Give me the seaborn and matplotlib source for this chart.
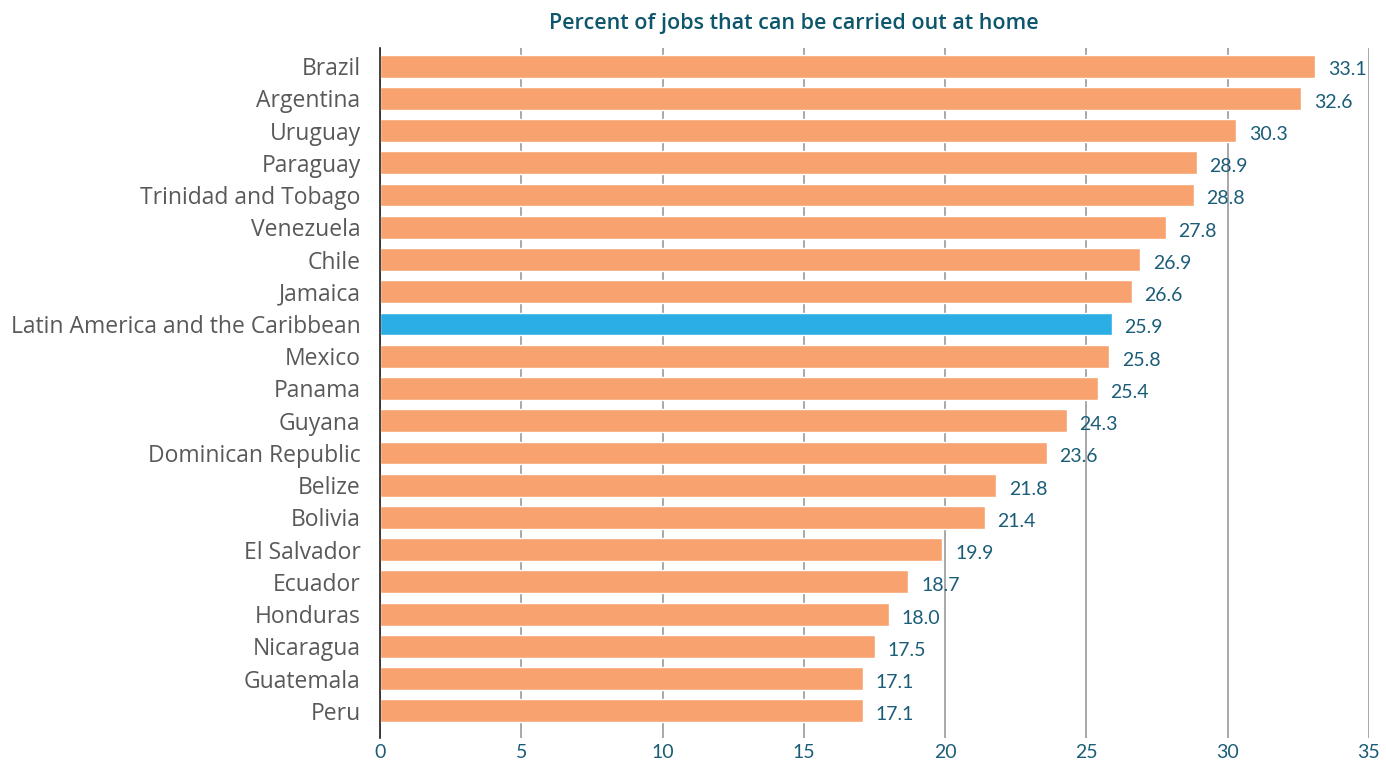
import matplotlib
matplotlib.use('Agg')
import matplotlib.pyplot as plt
import seaborn as sns
import pandas as pd

countries = ['Brazil', 'Argentina', 'Uruguay', 'Paraguay', 'Trinidad and Tobago', 'Venezuela',
             'Chile', 'Jamaica', 'Latin America and the Caribbean', 'Mexico', 'Panama', 'Guyana',
             'Dominican Republic', 'Belize', 'Bolivia', 'El Salvador', 'Ecuador', 'Honduras',
             'Nicaragua', 'Guatemala', 'Peru']
values = [33.1, 32.6, 30.3, 28.9, 28.8, 27.8, 26.9, 26.6, 25.9, 25.8, 25.4, 24.3,
          23.6, 21.8, 21.4, 19.9, 18.7, 18.0, 17.5, 17.1, 17.1]
highlight = 'Latin America and the Caribbean'
x_ticks = [0, 5, 10, 15, 20, 25, 30, 35]

ORANGE, BLUE, TEAL = '#f7a26f', '#2baee4', '#1b5d78'

df = pd.DataFrame({'country': countries, 'value': values})
df['group'] = ['region' if c == highlight else 'country' for c in countries]

sns.set_style('white')
plt.rcParams['font.family'] = ['Open Sans', 'DejaVu Sans']

fig, ax = plt.subplots(figsize=(13.86, 7.61), dpi=100)
fig.subplots_adjust(left=380 / 1386, right=1369 / 1386, top=1 - 48 / 761, bottom=1 - 738 / 761)

sns.barplot(data=df, x='value', y='country', hue='group', dodge=False, width=0.71,
            palette={'country': ORANGE, 'region': BLUE}, legend=False, ax=ax,
            saturation=1, zorder=3)

for i, v in enumerate(values):
    ax.text(v + 0.45, i + 0.12, f'{v:.1f}', va='center', ha='left', fontsize=14,
            color=TEAL, family=['Lato', 'DejaVu Sans'])

ax.set_xlim(0, 35)
ax.set_ylim(len(countries) - 0.16, -0.56)
ax.set_xticks(x_ticks)
ax.set_xticklabels([str(t) for t in x_ticks], color=TEAL, fontsize=14, family=['Lato', 'DejaVu Sans'])
ax.xaxis.grid(True, color='#9a9a9a', linewidth=1.2, zorder=0)
ax.yaxis.grid(False)
ax.tick_params(axis='y', labelsize=16.5, labelcolor='#595959', length=0, pad=14)
ax.tick_params(axis='x', length=0, pad=4)
ax.set_xlabel('')
ax.set_ylabel('')
for s in ['top', 'right', 'bottom']:
    ax.spines[s].set_visible(False)
ax.spines['left'].set_color('#222222')
ax.spines['left'].set_linewidth(1.2)
ax.spines['left'].set_zorder(4)

fig.text(794 / 1386, 1 - 24 / 761, 'Percent of jobs that can be carried out at home', fontsize=15.5,
         fontweight='semibold', color='#0e566b', ha='center', va='center')

plt.savefig('out.png', dpi=100)
